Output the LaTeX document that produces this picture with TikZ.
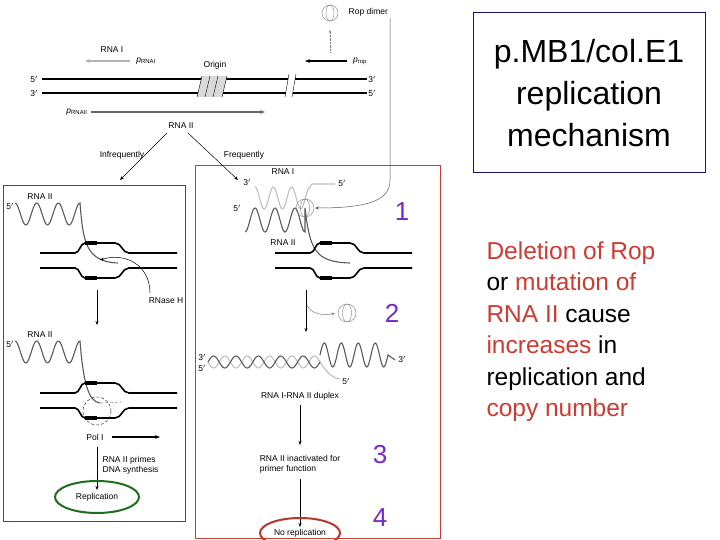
\documentclass[tikz,border=0pt]{standalone}
\usepackage{fontspec}
\setmainfont{Liberation Sans}
\usetikzlibrary{arrows.meta,patterns}
\definecolor{myred}{RGB}{205,60,50}
\definecolor{mypurple}{RGB}{120,40,200}
\definecolor{mygreen}{RGB}{30,110,30}
\definecolor{myblue}{RGB}{20,20,110}
\begin{document}
\begin{tikzpicture}[x=1pt,y=-1pt,
  lab/.style={font=\fontsize{8.5}{10}\selectfont,inner sep=0.5pt},
  num/.style={font=\fontsize{26}{26}\selectfont,text=mypurple},
  strand/.style={line width=1.6pt},
  arr/.style={-{Stealth[length=4pt]},line width=0.5pt},
  pics/fork/.style={code={
    \draw[strand] (-45,0) -- (-10,0) .. controls (-5,0) and (-5,-10) .. (0,-10) -- (30,-10) .. controls (37,-10) and (37,0) .. (44,0) -- (92,0);
    \draw[strand] (-45,15) -- (-10,15) .. controls (-5,15) and (-5,25) .. (0,25) -- (30,25) .. controls (37,25) and (37,15) .. (44,15) -- (92,15);
    \draw[line width=4pt] (0,-10) -- (12,-10); \draw[line width=4pt] (0,25) -- (12,25);
  }}]
\useasboundingbox (0,0) rectangle (720,540);
% title box
\draw[myblue,line width=0.8pt] (473,12) rectangle (705,172);
\node[font=\fontsize{32}{42}\selectfont,align=center] (title) at (589,93) {p.MB1/col.E1\\replication\\mechanism};
\node[font=\fontsize{24.5}{31.5}\selectfont,align=left,anchor=north west] (note) at (483,238) {\textcolor{myred}{Deletion of Rop}\\or \textcolor{myred}{mutation of}\\\textcolor{myred}{RNA II} cause\\\textcolor{myred}{increases} in\\replication and\\\textcolor{myred}{copy number}};
% panels
\draw[mygreen,line width=0.6pt] (3,185) rectangle (185,521);
\draw[myred,line width=0.6pt] (195,165) rectangle (440,538);
% top DNA
\draw[strand,line width=1.3pt] (42,79) -- (288,79) (295,79) -- (367,79);
\draw[strand,line width=1.3pt] (42,93) -- (286,93) (293,93) -- (367,93);
\draw (289,74) -- (285,97) (296,74) -- (292,97);
\fill[gray!30] (202,76) -- (227,76) -- (222,97) -- (197,97) -- cycle;
\draw (202,76) -- (197,97) (210,76) -- (205,97) (218,76) -- (213,97) (227,76) -- (222,97);
\node[lab] (o) at (215,65) {Origin};
\node[lab] (d1) at (34,79) {5$'$}; \node[lab] (d2) at (34,93) {3$'$};
\node[lab] (d3) at (372,79) {3$'$}; \node[lab] (d4) at (372,93) {5$'$};
\node[lab] (rna1) at (112,50) {RNA I};
\node[lab] (prnai) at (146,61) {\textit{p}\textsubscript{RNAI}};
\draw[-{Stealth[length=5pt]},gray!60,line width=1.5pt] (130,61) -- (85,61);
\node[lab] (prop) at (360,61) {\textit{p}\textsubscript{rop}};
\draw[-{Stealth[length=5pt]},line width=1.8pt] (347,61) -- (305,61);
\draw[-{Stealth[length=3pt]},gray,densely dotted] (330,52) -- (330,30);
\draw[gray] (330,13) circle (8); \draw[gray] (330,13) ellipse (4 and 8);
\node[lab,anchor=west] (ropd) at (348,12) {Rop dimer};
\node[lab] (prnaii) at (77,112) {\textit{p}\textsubscript{RNAII}};
\draw[-{Stealth[length=5pt]},gray!80!black,line width=1.4pt] (91,112) -- (265,112);
\node[lab] (rna2) at (181,126) {RNA II};
\draw[arr] (167,133) -- (120,180);
\draw[arr] (188,133) -- (238,180);
\node[lab] (inf) at (122,155) {Infrequently};
\node[lab] (frq) at (244,155) {Frequently};
\draw[arr,gray!70!black] (390,18) -- (390,180) .. controls (390,200) and (370,208) .. (315,208);
% left panel 1
\node[lab] (l1) at (40,197) {RNA II}; \node[lab] (l15) at (10,206) {5$'$};
\draw[gray!70!black,line width=1.1pt,smooth] plot[domain=15:80,samples=60] (\x,{214-11*cos((\x-15)*16.6)}) .. controls (83,240) and (85,262) .. (118,263);
\pic at (85,253) {fork};
\node[lab] (rh) at (166,301) {RNase H};
\draw[arr] (150,293) .. controls (150,265) and (125,252) .. (100,260);
\draw[arr] (97,290) -- (97,325);
% left panel 2
\node[lab] (l2) at (40,335) {RNA II}; \node[lab] (l25) at (10,344) {5$'$};
\draw[gray!70!black,line width=1.1pt,smooth] plot[domain=15:80,samples=60] (\x,{352-11*cos((\x-15)*16.6)}) .. controls (83,380) and (88,402) .. (100,403);
\draw[gray!70!black,densely dashed] (100,403) -- (122,402);
\pic at (85,393) {fork};
\draw[densely dashed] (97,411) circle (14);
\node[lab] (pol) at (95,437) {Pol I};
\draw[-{Stealth[length=5pt]},line width=1.6pt] (112,437) -- (160,437);
\draw[arr] (97,447) -- (97,490);
\node[lab,align=left,anchor=west] (prm) at (102,465) {RNA II primes\\DNA synthesis};
\draw[mygreen,line width=2pt] (97,497) ellipse (42 and 16);
\node[lab] (rep) at (97,497) {Replication};
% right panel top
\node[lab] (r1) at (283,172) {RNA I};
\node[lab] (r13) at (247,182) {3$'$}; \node[lab] (r15) at (342,183) {5$'$};
\draw[gray!50,line width=1.1pt,smooth] plot[domain=255:310,samples=60] (\x,{198-11*cos((\x-255)*19.67)}) -- (312,184) -- (335,184);
\node[lab] (r25) at (237,208) {5$'$};
\draw[gray!70!black,line width=1.1pt,smooth] plot[domain=245:305,samples=60] (\x,{220+12*cos((\x-245)*18)}) -- (305,208) .. controls (310,250) and (315,262) .. (350,263);
\draw[gray] (305,208) circle (9); \draw[gray] (305,208) ellipse (4.5 and 9);
\node[num] (n1) at (402,212) {1};
\node[lab] (r2) at (283,243) {RNA II};
\pic at (320,253) {fork};
\draw[arr] (306,290) -- (306,332);
\draw[arr,gray] (307,305) .. controls (310,314) and (325,316) .. (335,313);
\draw[gray] (347,313) circle (9); \draw[gray] (347,313) ellipse (4.5 and 9);
\node[num] (n2) at (392,313) {2};
% duplex
\node[lab] (x3) at (202,357) {3$'$}; \node[lab] (x5) at (202,368) {5$'$};
\draw[gray!50,line width=1.1pt,smooth] plot[domain=208:320,samples=120] (\x,{362+6*sin((\x-208)*16.07)}) .. controls (328,375) and (335,379) .. (340,379);
\draw[gray!70!black,line width=1.1pt,smooth] plot[domain=208:320,samples=120] (\x,{362-6*sin((\x-208)*16.07)});
\draw[gray!70!black,line width=1.1pt,smooth] plot[domain=320:388,samples=80] (\x,{355+12*sin((\x-320)*21.18+180)}) -- (395,360);
\node[lab] (x33) at (402,359) {3$'$}; \node[lab] (x55) at (346,381) {5$'$};
\node[lab] (dup) at (300,396) {RNA I-RNA II duplex};
\draw[arr] (300,405) -- (300,445);
\node[lab,align=left] (ina) at (300,464) {RNA II inactivated for\\primer function};
\draw[arr] (300,479) -- (300,527);
\node[num] (n3) at (380,455) {3};
\node[num] (n4) at (380,518) {4};
\begin{scope}
\clip (195,165) rectangle (440,540);
\draw[myred!90!black,line width=2pt] (300,533) ellipse (40 and 15);
\end{scope}
\node[lab] (norep) at (300,533) {No replication};
\end{tikzpicture}
\end{document}
